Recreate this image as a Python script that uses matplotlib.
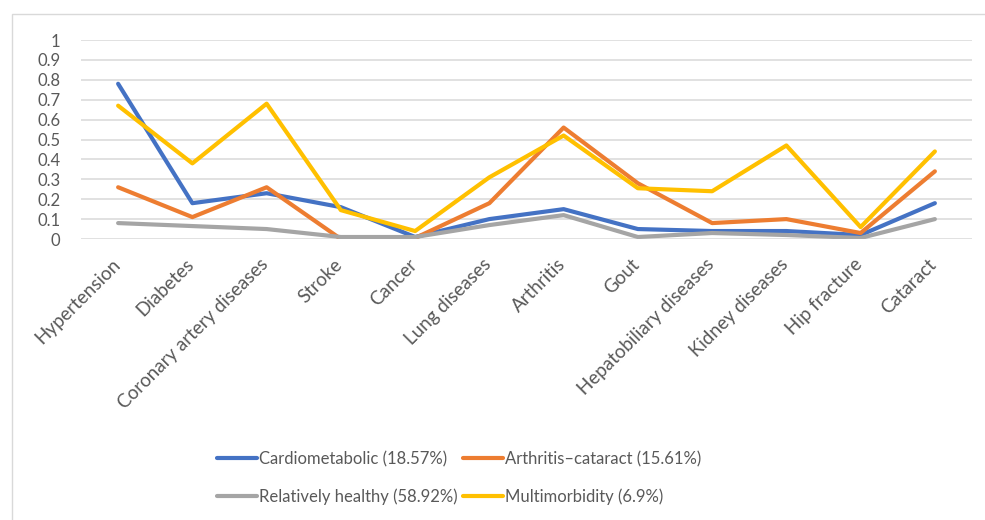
import numpy as np
import matplotlib
matplotlib.use("Agg")
import matplotlib.pyplot as plt
import matplotlib.transforms as mtransforms
from matplotlib.patches import Rectangle

plt.rcParams['font.family'] = ['Lato', 'DejaVu Sans']

diseases = ["Hypertension", "Diabetes", "Coronary artery diseases", "Stroke", "Cancer",
            "Lung diseases", "Arthritis", "Gout", "Hepatobiliary diseases",
            "Kidney diseases", "Hip fracture", "Cataract"]

cardiometabolic = [0.78, 0.18, 0.23, 0.16, 0.01, 0.10, 0.15, 0.05, 0.04, 0.04, 0.02, 0.18]
arthritis_cataract = [0.26, 0.11, 0.26, 0.00, 0.005, 0.18, 0.56, 0.28, 0.08, 0.10, 0.03, 0.34]
relatively_healthy = [0.08, 0.065, 0.05, 0.01, 0.01, 0.07, 0.12, 0.01, 0.03, 0.02, 0.005, 0.10]
multimorbidity = [0.67, 0.38, 0.68, 0.145, 0.04, 0.31, 0.52, 0.255, 0.24, 0.47, 0.06, 0.44]

series = [
    ("Cardiometabolic (18.57%)", cardiometabolic, "#4472C4"),
    ("Arthritis\u2013cataract (15.61%)", arthritis_cataract, "#ED7D31"),
    ("Relatively healthy (58.92%)", relatively_healthy, "#A5A5A5"),
    ("Multimorbidity (6.9%)", multimorbidity, "#FFC000"),
]

text_color = "#595959"

fig = plt.figure(figsize=(9.85, 5.2), dpi=100)
# chart area frame
fig.patches.append(Rectangle((12 / 985, -0.1), 1.0, 1.1 - 14 / 520, transform=fig.transFigure,
                             fill=False, edgecolor="#D9D9D9", linewidth=1.0))

ax = fig.add_axes([81 / 985, (520 - 239) / 520, (972 - 81) / 985, 199 / 520])

x = np.arange(len(diseases))
lines = []
for label, vals, color in series:
    ln, = ax.plot(x, vals, color=color, linewidth=3.0, label=label,
                  solid_capstyle="round", solid_joinstyle="round")
    lines.append(ln)

ax.set_xlim(-0.5, len(diseases) - 0.5)
ax.set_ylim(0, 1)
ax.set_yticks(np.arange(0, 1.01, 0.1))
ax.set_yticklabels(["0", "0.1", "0.2", "0.3", "0.4", "0.5", "0.6", "0.7", "0.8", "0.9", "1"])
ax.grid(axis="y", color="#D9D9D9", linewidth=1.1)
ax.set_axisbelow(True)
for s in ax.spines.values():
    s.set_visible(False)

ax.set_xticks(x)
ax.set_xticklabels(diseases, rotation=45, ha="right", va="top", rotation_mode="anchor")
ax.tick_params(axis="y", length=0, pad=15, labelsize=12, labelcolor=text_color)
ax.tick_params(axis="x", length=0, pad=12, labelsize=13.5, labelcolor=text_color)
shift = mtransforms.ScaledTranslation(-7 / 100, 0, fig.dpi_scale_trans)
for lab in ax.get_xticklabels():
    lab.set_transform(lab.get_transform() + shift)

# legend filled row by row: two entries per row
order = [0, 2, 1, 3]
fig.legend([lines[i] for i in order], [series[i][0] for i in order],
           loc="center", bbox_to_anchor=(459 / 985, 1 - 478 / 520), ncol=2, frameon=False,
           fontsize=12, handlelength=2.4, handletextpad=0.12, columnspacing=0.3,
           labelspacing=1.3, labelcolor=text_color)

fig.savefig("out.png", dpi=100)
